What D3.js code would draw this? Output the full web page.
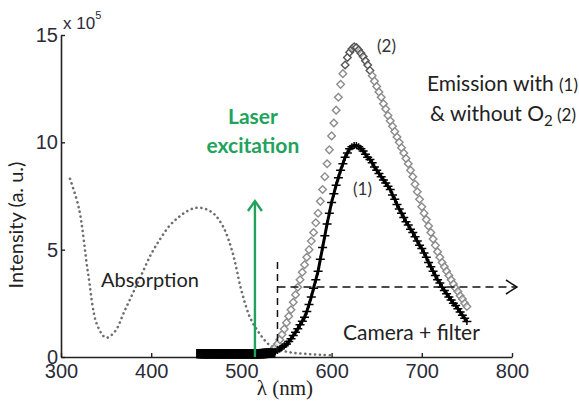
<!DOCTYPE html>
<html>
<head>
<meta charset="utf-8">
<script src="https://cdn.jsdelivr.net/npm/d3@7"></script>
<style>
  body { margin: 0; background: #fff; }
  text { font-family: Lato, "Noto Sans", sans-serif; }
  .tick text { font-family: "Liberation Sans", Arial, sans-serif; font-size: 20px; fill: #2b2b38; }
</style>
</head>
<body>
<div id="chart"></div>
<script>
// absorption (dotted)
var absLambda = [310,320,330,340,350,360,370,380,390,400,410,420,430,440,450,460,470,480,490,500,510,520,530,540,550,560,570,580,590,600];
var absValue  = [8.3,6.9,3.9,1.5,0.9,1.2,2.1,3.0,3.9,4.8,5.5,6.1,6.5,6.8,6.95,6.9,6.65,6.05,4.9,3.1,1.8,1.1,0.6,0.35,0.25,0.18,0.15,0.12,0.1,0.08];

// emission (1) with O2, lambda from 455 nm, step 2.5 nm
var em1Start = 455, em1Step = 2.5;
var em1 = [
  0.15,0.15,0.15,0.15,0.15,0.15,0.15,0.15,0.15,0.15,   // 455
  0.15,0.15,0.15,0.15,0.15,0.15,0.15,0.15,0.15,0.15,   // 480
  0.15,0.15,0.15,0.15,0.15,0.15,0.15,0.15,0.16,0.17,   // 505
  0.18,0.19,0.2,0.25,0.3,0.37,0.45,0.52,0.6,0.72,      // 530
  0.85,1.0,1.15,1.32,1.5,1.67,1.85,2.12,2.45,2.8,      // 555
  3.2,3.6,4.0,4.55,5.1,5.65,6.2,6.7,7.2,7.6,           // 580
  8.0,8.35,8.7,9.0,9.3,9.5,9.7,9.8,9.85,9.85,          // 605
  9.8,9.7,9.6,9.45,9.3,9.2,9.05,8.85,8.7,8.55,         // 630
  8.4,8.25,8.1,7.95,7.8,7.55,7.35,7.1,6.9,6.7,         // 655
  6.5,6.3,6.15,5.95,5.8,5.6,5.4,5.2,5.05,4.85,         // 680
  4.65,4.4,4.2,4.0,3.8,3.6,3.45,3.25,3.1,2.95,         // 705
  2.8,2.65,2.5,2.4,2.25,2.1,1.95,1.8,1.65              // 730
];

// emission (2) without O2, lambda from 530 nm, step 2.5 nm
var em2Start = 530, em2Step = 2.5;
var em2 = [
  0.2,0.26,0.35,0.46,0.6,0.8,1.05,1.3,1.6,1.9,          // 530
  2.2,2.55,2.9,3.25,3.6,3.95,4.3,4.65,5.0,5.4,          // 555
  5.8,6.25,6.7,7.25,7.8,8.4,9.0,9.65,10.3,10.9,         // 580
  11.5,12.1,12.7,13.2,13.6,13.95,14.2,14.35,14.45,14.42,// 605
  14.3,14.15,14.0,13.8,13.6,13.35,13.1,12.85,12.6,12.35,// 630
  12.1,11.8,11.55,11.25,11.0,10.75,10.5,10.25,10.0,9.75,// 655
  9.5,9.25,9.0,8.7,8.4,8.05,7.7,7.35,7.0,6.7,           // 680
  6.4,6.1,5.8,5.5,5.2,4.9,4.65,4.4,4.2,4.0,             // 705
  3.8,3.6,3.4,3.2,3.05,2.85,2.7,2.5,2.35                // 730
];

var xTicks = [300,400,500,600,700,800];
var yTicks = [0,5,10,15];

var width = 579, height = 402;
var green = "#22a35c";

var svg = d3.select("#chart").append("svg")
    .attr("width", width).attr("height", height);

var x = d3.scaleLinear().domain([300,800]).range([61,512]);
var y = d3.scaleLinear().domain([0,15]).range([357,35]);

function styleAxis(g){
    g.select(".domain").attr("stroke", "#222").attr("stroke-width", 1.6);
    g.selectAll(".tick line").attr("stroke", "#222").attr("stroke-width", 1.4);
}

// axes
svg.append("g")
    .attr("transform", "translate(0," + y(0) + ")")
    .call(d3.axisBottom(x).tickValues(xTicks).tickSize(-4).tickSizeOuter(0).tickPadding(7))
    .call(styleAxis);

svg.append("g")
    .attr("transform", "translate(" + x(300) + ",0)")
    .call(d3.axisLeft(y).tickValues(yTicks).tickSize(-4).tickSizeOuter(0).tickPadding(3))
    .call(styleAxis);

var sci = svg.append("text").attr("x", 63).attr("y", 29).attr("font-size", 17).attr("fill", "#2b2b38")
    .style("font-family", "'Liberation Sans', Arial, sans-serif").text("x 10");
sci.append("tspan").attr("dy", -10).attr("font-size", 11).text("5");

svg.append("text")
    .attr("transform", "translate(23,225) rotate(-90)")
    .attr("text-anchor", "middle").attr("font-size", 20).attr("fill", "#222")
    .text("Intensity (a. u.)");

svg.append("text").attr("x", 285).attr("y", 395).attr("text-anchor", "middle")
    .attr("font-size", 21).attr("fill", "#222")
    .style("font-family", "'Liberation Serif', 'DejaVu Serif', serif")
    .text("\u03bb (nm)");

var line = d3.line().x(function(d){ return x(d[0]); }).y(function(d){ return y(d[1]); }).curve(d3.curveCatmullRom);

// absorption
var absData = absLambda.map(function(d,i){ return [d, absValue[i]]; });
svg.append("path").datum(absData)
    .attr("fill", "none").attr("stroke", "#6e6e6e").attr("stroke-width", 2.6)
    .attr("stroke-linecap", "round").attr("stroke-dasharray", "0.1,4.8")
    .attr("d", line);

// emission (2): gray diamonds
var em2Data = em2.map(function(v,i){ return [em2Start + i*em2Step, v]; });
svg.selectAll(".dia").data(em2Data).enter().append("path")
    .attr("class", "dia")
    .attr("transform", function(d){ return "translate(" + x(d[0]) + "," + y(d[1]) + ")"; })
    .attr("d", "M0,-3.8L3.8,0L0,3.8L-3.8,0Z")
    .attr("fill", "#fff").attr("fill-opacity", 0.5)
    .attr("stroke", function(d){ return d[1] > 13.3 ? "#555" : "#8c8c8c"; })
    .attr("stroke-width", 1.4);

// emission (1): black plus
var em1Data = em1.map(function(v,i){ return [em1Start + i*em1Step, v]; });
svg.append("path").datum(em1Data)
    .attr("fill", "none").attr("stroke", "#000").attr("stroke-width", 3).attr("d", line);
svg.selectAll(".plus").data(em1Data).enter().append("path")
    .attr("class", "plus")
    .attr("transform", function(d){ return "translate(" + x(d[0]) + "," + y(d[1]) + ")"; })
    .attr("d", function(d){ return d[0] < 535 ? "M-4,-4H4V4H-4Z" : "M-4.5,0H4.5M0,-3.5V3.5"; })
    .attr("fill", "#000").attr("stroke", "#000").attr("stroke-width", 1.5);

// laser arrow
var xl = x(515);
svg.append("line").attr("x1", xl).attr("x2", xl).attr("y1", y(0)).attr("y2", 201)
    .attr("stroke", green).attr("stroke-width", 2.4);
svg.append("path").attr("d", "M" + (xl-7) + ",211L" + xl + ",201L" + (xl+7) + ",211")
    .attr("fill", "none").attr("stroke", green).attr("stroke-width", 2.4);
svg.append("text").attr("x", xl - 2).attr("y", 124).attr("text-anchor", "middle")
    .attr("font-size", 21).attr("font-weight", "bold").attr("fill", green).text("Laser");
svg.append("text").attr("x", xl - 2).attr("y", 153).attr("text-anchor", "middle")
    .attr("font-size", 21).attr("font-weight", "bold").attr("fill", green).text("excitation");

// camera + filter dashed
var xc = x(540), yc = 287;
svg.append("line").attr("x1", xc).attr("x2", xc).attr("y1", 262).attr("y2", 352)
    .attr("stroke", "#111").attr("stroke-width", 1.5).attr("stroke-dasharray", "7,5");
svg.append("line").attr("x1", xc).attr("x2", 516).attr("y1", yc).attr("y2", yc)
    .attr("stroke", "#111").attr("stroke-width", 1.5).attr("stroke-dasharray", "8,5");
svg.append("path").attr("d", "M506,280L517,287L506,294")
    .attr("fill", "none").attr("stroke", "#111").attr("stroke-width", 1.5);

// annotations
svg.append("text").attr("x", 101).attr("y", 287).attr("font-size", 20).attr("fill", "#222").text("Absorption");
svg.append("text").attr("x", 343).attr("y", 340).attr("font-size", 21).attr("fill", "#222").text("Camera + filter");
svg.append("text").attr("x", 377).attr("y", 52).attr("font-size", 17).attr("fill", "#333").text("(2)");
svg.append("text").attr("x", 353).attr("y", 195).attr("font-size", 17).attr("fill", "#333").text("(1)");

var t1 = svg.append("text").attr("x", 578).attr("y", 91).attr("text-anchor", "end")
    .attr("font-size", 21).attr("fill", "#222").text("Emission with ");
t1.append("tspan").attr("font-size", 17).text("(1)");
var t2 = svg.append("text").attr("x", 576).attr("y", 121).attr("text-anchor", "end")
    .attr("font-size", 21).attr("fill", "#222").text("& without O");
t2.append("tspan").attr("font-size", 15).attr("dy", 5).text("2");
t2.append("tspan").attr("font-size", 17).attr("dy", -5).text(" (2)");
</script>
</body>
</html>
